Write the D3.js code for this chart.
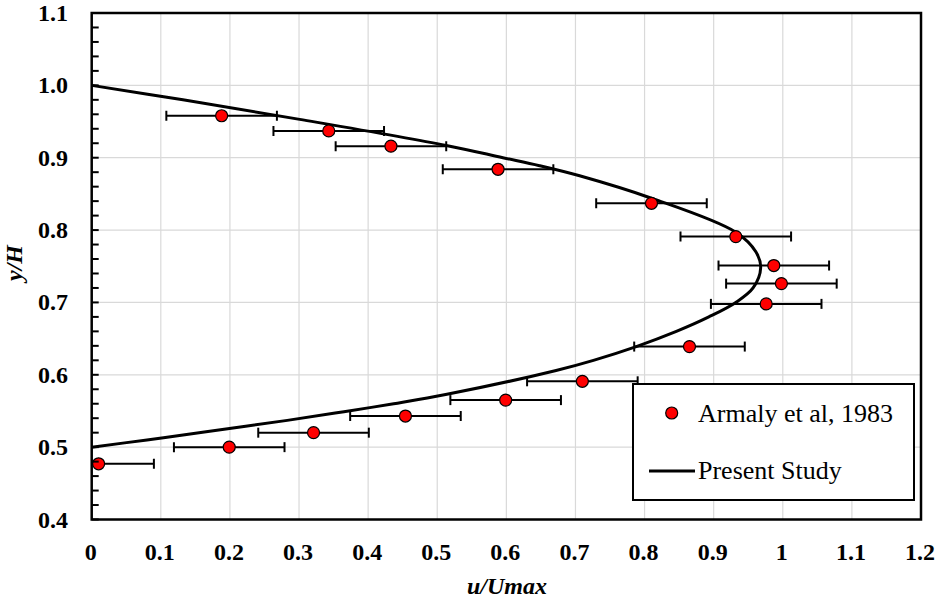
<!DOCTYPE html>
<html>
<head>
<meta charset="utf-8">
<script src="https://cdn.jsdelivr.net/npm/d3@7"></script>
<style>
  body { margin: 0; background: #fff; }
</style>
</head>
<body>
<svg id="chart" width="937" height="600"></svg>
<script>
// Armaly et al (1983) measured points
const expU = [0.188, 0.343, 0.433, 0.588, 0.810, 0.932, 0.987, 0.998, 0.976, 0.865, 0.710, 0.599, 0.454, 0.321, 0.199, 0.010];
const expY = [0.958, 0.937, 0.916, 0.884, 0.837, 0.791, 0.751, 0.726, 0.698, 0.639, 0.591, 0.565, 0.543, 0.520, 0.500, 0.477];
const errU = 0.08;

// Present Study profile
const simY = [0.500, 0.510, 0.521, 0.537, 0.549, 0.560, 0.573, 0.606, 0.620, 0.639, 0.660, 0.680, 0.700, 0.720, 0.748, 0.770, 0.797, 0.844, 0.875, 0.889, 0.900, 0.917, 0.953, 0.980, 1.000];
const simU = [0.000, 0.080, 0.163, 0.283, 0.365, 0.437, 0.514, 0.672, 0.726, 0.788, 0.846, 0.893, 0.932, 0.957, 0.968, 0.961, 0.932, 0.810, 0.706, 0.648, 0.595, 0.513, 0.301, 0.132, 0.000];

const xTicks = [0, 0.1, 0.2, 0.3, 0.4, 0.5, 0.6, 0.7, 0.8, 0.9, 1, 1.1, 1.2];
const yTicks = [0.4, 0.5, 0.6, 0.7, 0.8, 0.9, 1.0, 1.1];

const FONT = "font-family: 'Liberation Serif', 'Times New Roman', Times, 'DejaVu Serif', serif";

const svg = d3.select("#chart");
const pLeft = 91.7, pRight = 921, pTop = 13, pBottom = 519.5;

const x = d3.scaleLinear().domain([0, 1.2]).range([pLeft, pRight]);
const y = d3.scaleLinear().domain([0.4, 1.1]).range([pBottom, pTop]);

// grid
svg.append("g").selectAll("line").data(xTicks.slice(1, -1)).join("line")
  .attr("x1", d => x(d)).attr("x2", d => x(d))
  .attr("y1", pTop).attr("y2", pBottom)
  .attr("stroke", "#d9d9d9").attr("stroke-width", 1.2);
svg.append("g").selectAll("line").data(yTicks.slice(1, -1)).join("line")
  .attr("x1", pLeft).attr("x2", pRight)
  .attr("y1", d => y(d)).attr("y2", d => y(d))
  .attr("stroke", "#d9d9d9").attr("stroke-width", 1.2);

svg.append("defs").append("clipPath").attr("id", "plotClip")
  .append("rect").attr("x", pLeft).attr("y", pTop)
  .attr("width", pRight - pLeft).attr("height", pBottom - pTop);

const plot = svg.append("g").attr("clip-path", "url(#plotClip)");

// curve
const pts = simY.map((v, i) => [simU[i], v]);
plot.append("path")
  .datum(pts)
  .attr("fill", "none").attr("stroke", "#000").attr("stroke-width", 3)
  .attr("d", d3.line().x(d => x(d[0])).y(d => y(d[1])).curve(d3.curveCatmullRom.alpha(0.5)));

// error bars
const exp = expU.map((u, i) => ({ u: u, v: expY[i] }));
const eb = plot.append("g").attr("stroke", "#000").attr("stroke-width", 2);
eb.selectAll(".bar").data(exp).join("line").attr("class", "bar")
  .attr("x1", d => x(d.u - errU)).attr("x2", d => x(d.u + errU))
  .attr("y1", d => y(d.v)).attr("y2", d => y(d.v));
eb.selectAll(".capL").data(exp).join("line").attr("class", "capL")
  .attr("x1", d => x(d.u - errU)).attr("x2", d => x(d.u - errU))
  .attr("y1", d => y(d.v) - 5).attr("y2", d => y(d.v) + 5);
eb.selectAll(".capR").data(exp).join("line").attr("class", "capR")
  .attr("x1", d => x(d.u + errU)).attr("x2", d => x(d.u + errU))
  .attr("y1", d => y(d.v) - 5).attr("y2", d => y(d.v) + 5);

// markers
plot.append("g").selectAll("circle").data(exp).join("circle")
  .attr("cx", d => x(d.u)).attr("cy", d => y(d.v)).attr("r", 6)
  .attr("fill", "#ff0000").attr("stroke", "#000").attr("stroke-width", 1.2);

// frame
svg.append("rect").attr("x", pLeft).attr("y", pTop)
  .attr("width", pRight - pLeft).attr("height", pBottom - pTop)
  .attr("fill", "none").attr("stroke", "#000").attr("stroke-width", 2.5);

// y ticks (major + minor, inward)
const yMinor = d3.range(0, 36).map(i => 0.4 + i * 0.02);
svg.append("g").selectAll("line").data(yMinor).join("line")
  .attr("x1", pLeft).attr("x2", pLeft + 7)
  .attr("y1", d => y(d)).attr("y2", d => y(d))
  .attr("stroke", "#000").attr("stroke-width", 2);

// tick labels
svg.append("g").selectAll("text").data(yTicks).join("text")
  .attr("style", FONT)
  .attr("x", 68).attr("y", d => y(d) + 8)
  .attr("text-anchor", "end")
  .attr("font-size", 24).attr("font-weight", "bold")
  .text(d => d3.format(".1f")(d));
svg.append("g").selectAll("text").data(xTicks).join("text")
  .attr("style", FONT)
  .attr("x", d => x(d) - 1).attr("y", 560)
  .attr("text-anchor", "middle")
  .attr("font-size", 24).attr("font-weight", "bold")
  .text(d => String(d));

// axis titles
svg.append("text").attr("style", FONT).attr("x", 507).attr("y", 594)
  .attr("text-anchor", "middle")
  .attr("font-size", 24).attr("font-weight", "bold").attr("font-style", "italic")
  .text("u/Umax");
svg.append("text").attr("style", FONT).attr("transform", "translate(22,263) rotate(-90)")
  .attr("text-anchor", "middle")
  .attr("font-size", 24).attr("font-weight", "bold").attr("font-style", "italic")
  .text("y/H");

// legend
const lg = svg.append("g");
lg.append("rect").attr("x", 633).attr("y", 384).attr("width", 281).attr("height", 116)
  .attr("fill", "#fff").attr("stroke", "#000").attr("stroke-width", 2);
lg.append("circle").attr("cx", 671.7).attr("cy", 413).attr("r", 6)
  .attr("fill", "#ff0000").attr("stroke", "#000").attr("stroke-width", 1.2);
lg.append("text").attr("style", FONT).attr("x", 698).attr("y", 422).attr("font-size", 26).text("Armaly et al, 1983");
lg.append("line").attr("x1", 649).attr("x2", 695).attr("y1", 471).attr("y2", 471)
  .attr("stroke", "#000").attr("stroke-width", 3);
lg.append("text").attr("style", FONT).attr("x", 698).attr("y", 479).attr("font-size", 26).text("Present Study");
</script>
</body>
</html>
